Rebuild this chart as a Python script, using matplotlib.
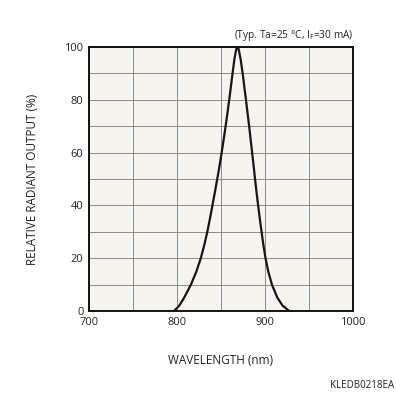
import matplotlib
matplotlib.use("Agg")
import matplotlib.pyplot as plt

plt.rcParams['font.family'] = ['Open Sans', 'DejaVu Sans']
plt.rcParams['mathtext.fontset'] = 'custom'
plt.rcParams['mathtext.rm'] = 'Open Sans'

# spectral response
wavelength = [796.6, 802.5, 808, 815.8, 822, 827, 831, 834.4, 837.4, 840.2,
              843, 845.7, 848.3, 850.7, 853, 855.2, 857.3, 859.3, 861.2, 863.1, 865,
              866.6, 867.7, 868.7, 869.7, 870.7, 872.4, 874.5, 876.4, 878.3, 880.1,
              881.9, 883.6, 885.3, 887, 888.6, 890.3, 892.1, 894, 896, 898.1,
              900.5, 903.6, 907.8, 914, 920, 927.5]
output = [0, 2, 5, 10, 15, 20, 25, 30, 35, 40,
          45, 50, 55, 60, 65, 70, 75, 80, 85, 90, 95,
          98, 99.6, 100, 99.6, 98, 95, 90, 85, 80, 75,
          70, 65, 60, 55, 50, 45, 40, 35, 30, 25,
          20, 15, 10, 5, 2, 0]

x_ticks = [700, 800, 900, 1000]
y_ticks = [0, 20, 40, 60, 80, 100]

fig = plt.figure(figsize=(3.96, 3.96), dpi=100)
ax = fig.add_axes([0.2247, 0.2146, 0.667, 0.667])
ax.set_facecolor('#f6f4ee')

ax.plot(wavelength, output, color='#1a1414', lw=1.6, solid_capstyle='round',
        solid_joinstyle='round')

ax.set_xlim(700, 1000)
ax.set_ylim(0, 100)
ax.set_xticks(x_ticks)
ax.set_yticks(y_ticks)
ax.set_xticks(range(700, 1001, 50), minor=True)
ax.set_yticks(range(0, 101, 10), minor=True)
ax.grid(True, which='both', color='#8a8a8a', lw=0.7)
ax.tick_params(which='both', length=0, labelsize=8, colors='#222222', pad=4)
for s in ax.spines.values():
    s.set_linewidth(1.4)
    s.set_color('#111111')

ax.set_xlabel('WAVELENGTH (nm)', fontsize=8.5, labelpad=19, color='#222222')
ax.set_ylabel('RELATIVE RADIANT OUTPUT (%)', fontsize=8.5, labelpad=18, color='#222222')

ax.text(1.0, 1.015, r'(Typ. Ta=25 °C, I$_{\rm F}$=30 mA)', transform=ax.transAxes,
        ha='right', va='bottom', fontsize=7.3, color='#222222')
fig.text(0.995, 0.027, 'KLEDB0218EA', ha='right', va='center', fontsize=7, color='#222222')

fig.savefig('out.png', dpi=100)
